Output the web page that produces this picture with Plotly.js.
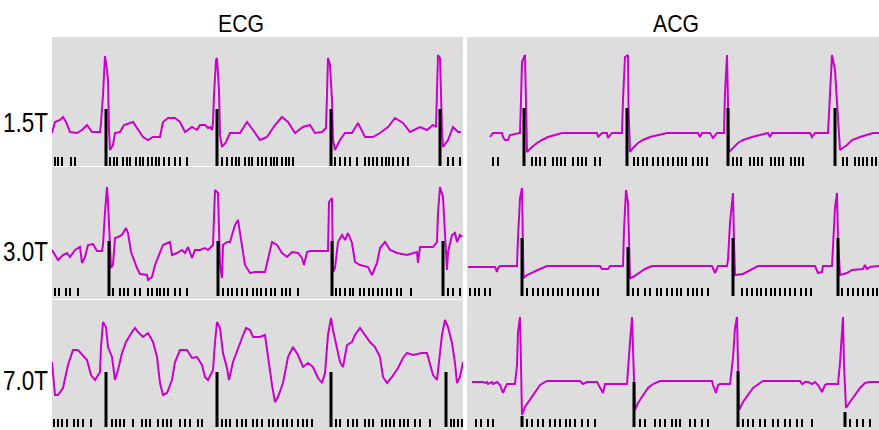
<!DOCTYPE html>
<html><head><meta charset="utf-8">
<script src="https://cdn.plot.ly/plotly-3.0.1.min.js"></script>
<style>html,body{margin:0;padding:0;background:#fff}#chart{width:879px;height:430px}</style>
</head><body><div id="chart"></div>
<script>
// ---------- DATA (time in sample units, amplitude in signal units) ----------
const columnTitles = ["ECG", "ACG"];
const rowLabels = ["1.5T", "3.0T", "7.0T"];

// ECG 1.5T
const ecg15_t = [52,55,60,63,66,70,77,82,87,92,100,101,103,105,107,108,109,110,113,115,120,124,133,137,143,148,153,160,163,168,175,180,185,192,197,200,205,208,210,212,213,214,216,217,219,220,222,226,230,240,247,253,260,267,275,282,288,295,303,310,315,322,326,327,328,330,332,333,335,340,345,352,358,365,373,380,388,395,403,410,420,427,433,436,437,438,440,441,442,443,448,453,458,461];
const ecg15_v = [33,44,46,49,44,34,33,36,41,34,34,43,71,110,96,86,36,16,21,33,34,41,44,38,29,26,29,29,44,48,48,44,34,39,36,41,41,38,39,36,43,71,106,108,76,31,19,24,33,33,44,36,26,29,41,49,44,33,39,41,33,34,38,71,108,101,66,26,16,26,33,33,43,29,29,33,39,48,43,34,39,36,41,39,71,111,108,66,36,19,26,39,34,34];
const ecg15_trig = [106,217,331,440];
const ecg15_trigTop = [57,57,57,57];
const ecg15_ticks = [55,58,62,71,75,110,114,117,123,127,130,136,140,143,148,152,156,159,164,169,175,180,187,222,227,232,236,239,245,249,252,258,262,266,271,274,277,282,286,289,293,335,340,345,350,357,365,369,373,377,382,386,389,393,398,403,408,448,453,460];

// ACG 1.5T
const acg15_t = [490,493,502,503,505,508,510,520,521,522,525,526,527,532,537,542,548,562,597,598,602,607,608,612,622,623,625,628,628.5,630,633,638,643,650,667,698,700,702,710,713,717,724,725,727,728,729,733,738,743,752,768,770,772,810,812,815,828,830,832,835,837,840,847,852,860,873,879];
const acg15_v = [29,33,33,29,26,26,31,33,66,104,111,59,14,19,23,26,29,33,33,29,33,33,28,33,33,66,109,111,59,14,18,23,26,29,33,33,29,33,33,28,33,33,73,111,58,14,18,23,26,29,33,29,33,33,29,33,33,69,111,96,66,16,21,26,29,33,33];
const acg15_trig = [524,627,728,835];
const acg15_trigTop = [58,58,58,58];
const acg15_ticks = [493,498,532,536,540,545,553,557,561,565,573,578,582,586,595,600,634,638,643,647,653,658,663,668,673,678,682,686,693,698,702,707,733,737,741,750,754,758,762,771,775,779,783,791,795,799,803,843,847,855,859,863,867,872,876];

// ECG 3.0T
const ecg30_t = [52,58,63,67,70,75,80,82,85,88,93,97,102,103,105,107,108,110,111,113,115,118,122,126,128,131,133,137,140,147,148,152,155,160,163,170,172,177,182,185,188,192,195,200,205,208,213,215,218,220,222,223,227,230,235,238,242,245,250,255,265,268,272,277,282,287,292,298,302,304,307,310,328,329,332,333,335,338,342,345,348,352,355,360,368,372,377,380,385,390,397,407,417,418,420,433,437,438,440,443,445,447,448,452,455,457,460,462];
const ecg30_v = [49,39,44,46,42,49,52,36,42,54,55,48,48,54,87,112,97,57,31,34,61,62,64,71,66,47,41,31,25,24,19,22,34,46,54,57,44,46,49,46,52,41,49,49,51,49,54,109,106,34,21,54,57,57,74,79,54,34,26,27,27,41,57,54,46,42,47,46,41,34,47,48,48,97,101,27,31,57,64,59,66,56,37,34,32,24,36,51,57,49,46,44,47,36,52,52,57,86,112,102,61,29,47,64,66,57,64,62];
const ecg30_trig = [109,218,332,443];
const ecg30_trigTop = [58,58,58,58];
const ecg30_ticks = [55,59,66,70,78,113,120,124,128,135,140,148,152,157,160,164,168,175,180,187,223,228,232,237,242,247,253,257,261,266,271,275,282,286,290,298,336,340,345,350,353,360,364,369,373,378,382,387,391,397,401,411,448,453,460];

// ACG 3.0T
const acg30_t = [468,495,497,498,500,517,518,520,522,523,523.5,527,533,540,547,600,602,608,610,623,624,626,628,630,633,640,645,652,712,715,718,727,728,730,733,734,735,743,750,758,815,818,822,823,832,833,835,837,838,840,847,852,863,865,867,870,879];
const acg30_v = [32,32,27,31,33,33,61,101,111,62,21,24,27,30,33,33,30,30,33,33,69,109,96,21,22,27,30,33,33,26,33,33,39,76,106,57,24,25,29,33,33,26,27,33,33,54,91,106,59,24,26,29,30,34,30,32,33];
const acg30_trig = [522,628,733,838];
const acg30_trigTop = [61,52,61,61];
const acg30_ticks = [470,475,479,485,490,527,533,538,543,548,553,558,562,568,573,578,583,588,593,598,633,638,645,650,657,661,667,672,677,681,688,693,697,702,708,742,747,752,757,761,766,771,775,780,785,790,795,801,806,811,842,848,853,858,863,868,873,877];

// ECG 7.0T
const ecg70_t = [52,55,58,63,68,73,78,83,87,91,95,100,101,103,106,108,112,115,118,122,126,132,135,138,143,148,153,157,160,163,167,172,175,180,187,192,197,202,205,208,213,215,217,220,223,227,229,233,238,242,246,250,253,260,265,268,272,275,278,283,288,293,298,303,308,313,318,322,325,328,331,333,337,340,343,347,352,355,360,365,370,375,380,383,387,392,398,403,407,413,422,427,430,433,437,440,442,445,448,452,455,457,460,463];
const ecg70_v = [68,35,35,42,65,80,80,75,70,55,50,58,83,108,103,83,73,50,60,77,88,98,102,98,93,97,88,73,47,35,37,50,68,80,80,72,73,65,53,50,60,88,108,102,77,62,50,68,82,92,102,100,93,93,95,73,45,28,33,47,73,83,75,63,67,63,52,47,57,95,112,100,80,68,63,85,88,95,102,95,88,83,73,53,47,53,62,72,77,75,77,77,65,55,50,75,95,110,103,87,67,47,53,68];
const ecg70_trig = [106,217,331,446];
const ecg70_trigTop = [58,58,58,58];
const ecg70_ticks = [54,58,62,67,74,78,83,91,112,116,120,124,133,142,146,150,158,163,167,171,180,185,190,198,202,222,226,230,237,242,246,253,257,262,269,273,278,283,287,292,298,303,307,312,336,340,348,353,357,365,369,373,382,386,390,394,400,404,408,415,420,430,451,454,458,462];

// ACG 7.0T
const acg70_t = [472,483,485,487,488,492,493,497,500,503,505,507,515,517,518,520,521,522,525,530,535,540,547,580,583,587,597,600,603,605,627,630,632,633,635,638,643,648,653,660,712,713,716,718,720,730,733,735,737,738,739,743,748,753,760,763,800,802,805,808,812,815,818,822,825,827,838,840,842,843,844,846,850,855,860,865,870,879];
const acg70_v = [48,48,47,48,46,48,46,48,45,37,42,46,46,65,98,113,65,15,23,30,38,45,49,49,46,48,48,42,37,46,46,88,113,82,20,27,35,42,46,49,49,45,37,45,46,46,72,102,113,63,20,28,35,42,47,49,49,46,48,48,46,48,45,38,45,46,46,67,98,113,65,22,28,35,42,47,48,48];
const acg70_trig = [522,634,738,845];
const acg70_trigTop = [14,48,59,18];
const acg70_ticks = [476,481,488,493,527,532,538,543,550,555,560,566,570,575,582,588,595,640,645,655,660,665,672,676,680,690,695,702,708,743,748,753,760,765,773,778,785,790,797,802,812,850,857,863,870];

// ---------- LAYOUT / STYLE ----------
const W = 879, H = 430;
const colPx = [[52, 463], [467, 879]];
const rowPx = [
  [[37, 166], [167, 299], [300, 430]],
  [[37, 167], [167, 300], [300, 430]]
];
const rowBase = [166, 299, 430];
const tickLo = [0, 3, 3], tickHi = [9, 11, 11];
const MAG = "#cc00cc";
const FONT = "Liberation Sans, Arial, Helvetica, sans-serif";

const panels = [
  {c:0, r:0, t:ecg15_t, v:ecg15_v, trig:ecg15_trig, top:ecg15_trigTop, ticks:ecg15_ticks},
  {c:1, r:0, t:acg15_t, v:acg15_v, trig:acg15_trig, top:acg15_trigTop, ticks:acg15_ticks},
  {c:0, r:1, t:ecg30_t, v:ecg30_v, trig:ecg30_trig, top:ecg30_trigTop, ticks:ecg30_ticks},
  {c:1, r:1, t:acg30_t, v:acg30_v, trig:acg30_trig, top:acg30_trigTop, ticks:acg30_ticks},
  {c:0, r:2, t:ecg70_t, v:ecg70_v, trig:ecg70_trig, top:ecg70_trigTop, ticks:ecg70_ticks},
  {c:1, r:2, t:acg70_t, v:acg70_v, trig:acg70_trig, top:acg70_trigTop, ticks:acg70_ticks}
];

const traces = [];
const layout = {
  width: W, height: H,
  margin: {l:0, r:0, t:0, b:0, pad:0},
  paper_bgcolor: "#ffffff",
  plot_bgcolor: "#dddddd",
  showlegend: false,
  annotations: [],
  font: {family: FONT, color: "#000"}
};

panels.forEach((p, i) => {
  const n = i === 0 ? "" : String(i + 1);
  const xa = "x" + n, ya = "y" + n;
  const [x0, x1] = colPx[p.c];
  const [y0, y1] = rowPx[p.c][p.r];
  layout["xaxis" + n] = {
    domain: [x0 / W, x1 / W], range: [x0, x1], visible: false, fixedrange: true, anchor: ya
  };
  layout["yaxis" + n] = {
    domain: [1 - y1 / H, 1 - y0 / H], range: [rowBase[p.r] - y1, rowBase[p.r] - y0],
    visible: false, fixedrange: true, anchor: xa
  };
  const tx = [], ty = [];
  p.ticks.forEach(t => { tx.push(t, t, null); ty.push(tickLo[p.r], tickHi[p.r], null); });
  traces.push({type:"scatter", mode:"lines", x:tx, y:ty, xaxis:xa, yaxis:ya,
    line:{color:"#000", width:2}, hoverinfo:"skip"});
  traces.push({type:"scatter", mode:"lines", x:p.t, y:p.v, xaxis:xa, yaxis:ya,
    line:{color:MAG, width:2, shape:"linear"}, hoverinfo:"skip"});
  const gx = [], gy = [];
  p.trig.forEach((t, k) => { gx.push(t, t, null); gy.push(tickLo[p.r], p.top[k], null); });
  traces.push({type:"scatter", mode:"lines", x:gx, y:gy, xaxis:xa, yaxis:ya,
    line:{color:"#000", width:3}, hoverinfo:"skip"});
});

// text: [string, centerX/rightX px, centerY px, size, anchor, compressed width px]
const texts = [];
const titleX = [241.5, 675.5];
columnTitles.forEach((s, i) => texts.push([s, titleX[i], 23.5, 24, "center", 46]));
const labelY = [122.5, 252, 381];
rowLabels.forEach((s, i) => texts.push([s, 50, labelY[i], 27, "right", 45]));

texts.forEach(([s, x, y, size, anchor]) => layout.annotations.push({
  text: s, xref:"paper", yref:"paper", x: x / W, y: 1 - y / H,
  xanchor: anchor, yanchor:"middle", showarrow:false, font:{size:size, color:"#000", family:FONT}
}));

Plotly.newPlot("chart", traces, layout, {staticPlot:true, displayModeBar:false}).then(gd => {
  // narrow the glyphs horizontally to match the condensed typeface of the original
  const els = gd.querySelectorAll("g.annotation");
  els.forEach((g, i) => {
    const t = g.querySelector("text.annotation-text");
    if (!t || !texts[i]) return;
    const bb = t.getBBox();
    const target = texts[i][5];
    const anchorX = texts[i][4] === "right" ? bb.x + bb.width : bb.x + bb.width / 2;
    const sx = target / bb.width;
    t.setAttribute("transform", `translate(${anchorX},0) scale(${sx},1) translate(${-anchorX},0)`);
  });
});
</script>
</body></html>
